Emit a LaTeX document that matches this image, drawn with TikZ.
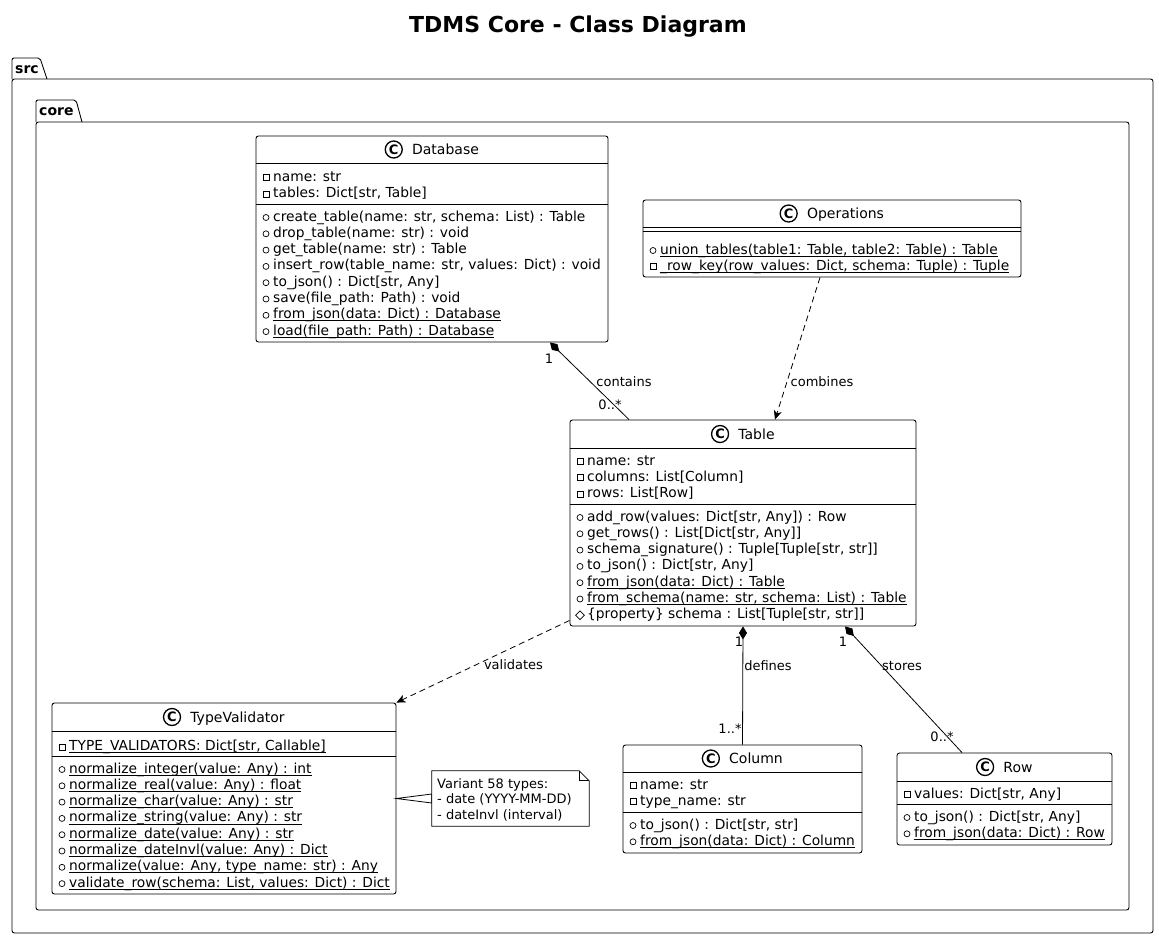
\documentclass[tikz,border=0pt]{standalone}
\usepackage{fontspec}
\setmainfont{DejaVu Sans}
\usetikzlibrary{arrows.meta,shapes.geometric,positioning}

\newcommand\uln[1]{\setbox0=\hbox{#1}\rlap{\rule[-2.4pt]{\wd0}{0.8pt}}\box0}
\newcommand\mbr[5]{%
  \node[#4] (#1i) at ({#2+10},{#3+1.5}) {};
  \node[mtext] (#1) at ({#2+17},#3) {#5};}
\newcommand\chead[4]{%
  \node[cname] (#1) at ({#2+13.5},#3) {#4};
  \node[cicon, left=9pt of #1] (#1c) {C};}
\newcommand\sepline[3]{\draw[boxline] (#1.west |- 0,#2) -- (#1.east |- 0,#2);}

\tikzset{
  boxline/.style={line width=0.9pt},
  cbox/.style={draw, rounded corners=2.5pt, line width=0.9pt, inner sep=0pt, fill=white},
  mtext/.style={anchor=west, inner sep=0pt, font=\fontsize{13.8}{16}\selectfont, text height=12pt, text depth=2pt},
  ntext/.style={anchor=west, inner sep=0pt, font=\fontsize{13}{15}\selectfont, text height=11pt, text depth=2pt},
  priv/.style={draw, rectangle, minimum size=6pt, inner sep=0pt, line width=0.7pt},
  pub/.style={draw, circle, minimum size=6pt, inner sep=0pt, line width=0.7pt},
  prot/.style={draw, diamond, minimum size=9pt, inner sep=0pt, line width=0.7pt},
  cname/.style={inner sep=0pt, font=\fontsize{14}{16}\selectfont, text height=12pt, text depth=2pt},
  cicon/.style={draw, circle, line width=1.3pt, minimum size=17pt, inner sep=0pt, font=\bfseries\fontsize{13}{13}\selectfont},
  lbl/.style={inner sep=0pt, font=\fontsize{13}{15}\selectfont},
  pkglbl/.style={anchor=west, inner sep=0pt, font=\bfseries\fontsize{14}{16}\selectfont},
  comp/.style={{Diamond[length=13pt,width=8pt]}-, line width=0.8pt},
  dep/.style={-{Stealth[length=9pt,width=8pt,inset=2.5pt]}, dash pattern=on 6pt off 4pt, line width=0.8pt},
}

\begin{document}
\begin{tikzpicture}[x=1pt,y=-1pt]
\useasboundingbox (0,0) rectangle (1159,940);
\fill[white] (0,0) rectangle (1159,940);

% title
\node[font=\bfseries\fontsize{22}{26}\selectfont, inner sep=0pt] (title) at (578,27) {TDMS Core - Class Diagram};

% packages
\draw[boxline, rounded corners=2pt] (12,79) -- (12,58) -- (40,58) -- (47,79);
\draw[boxline, rounded corners=2.5pt] (12,79) rectangle (1153,933);
\node[pkglbl] (srclbl) at (15,69.5) {src};
\draw[boxline, rounded corners=2pt] (36,122) -- (36,100) -- (76,100) -- (82,122);
\draw[boxline, rounded corners=2.5pt] (36,122) rectangle (1129,910);
\node[pkglbl] (corelbl) at (39,112) {core};

% ---------- Database
\node[cbox, minimum width=352pt, minimum height=206pt] (db) at (432,239) {};
\chead{dbh}{432}{149.5}{Database}
\sepline{db}{163}{}
\sepline{db}{204}{}
\mbr{dbA}{256}{176}{priv}{name: str}
\mbr{dbB}{256}{192.5}{priv}{tables: Dict[str, Table]}
\mbr{dbC}{256}{216}{pub}{create\_table(name: str, schema: List) : Table}
\mbr{dbD}{256}{232.3}{pub}{drop\_table(name: str) : void}
\mbr{dbE}{256}{248.6}{pub}{get\_table(name: str) : Table}
\mbr{dbF}{256}{264.9}{pub}{insert\_row(table\_name: str, values: Dict) : void}
\mbr{dbG}{256}{281.2}{pub}{to\_json() : Dict[str, Any]}
\mbr{dbH}{256}{297.5}{pub}{save(file\_path: Path) : void}
\mbr{dbI}{256}{313.8}{pub}{\uln{from\_json(data: Dict) : Database}}
\mbr{dbJ}{256}{330.1}{pub}{\uln{load(file\_path: Path) : Database}}

% ---------- Operations
\node[cbox, minimum width=378pt, minimum height=77pt] (ops) at (832,238.5) {};
\chead{opsh}{832}{213.5}{Operations}
\sepline{ops}{227}{}
\sepline{ops}{231}{}
\mbr{opA}{643}{249}{pub}{\uln{union\_tables(table1: Table, table2: Table) : Table}}
\mbr{opB}{643}{265}{priv}{\uln{\_row\_key(row\_values: Dict, schema: Tuple) : Tuple}}

% ---------- Table
\node[cbox, minimum width=346pt, minimum height=206pt] (tab) at (743,523) {};
\chead{tabh}{743}{434}{Table}
\sepline{tab}{448}{}
\sepline{tab}{504}{}
\mbr{tbA}{570}{460}{priv}{name: str}
\mbr{tbB}{570}{476.3}{priv}{columns: List[Column]}
\mbr{tbC}{570}{492.6}{priv}{rows: List[Row]}
\mbr{tbD}{570}{516}{pub}{add\_row(values: Dict[str, Any]) : Row}
\mbr{tbE}{570}{532.3}{pub}{get\_rows() : List[Dict[str, Any]]}
\mbr{tbF}{570}{548.6}{pub}{schema\_signature() : Tuple[Tuple[str, str]]}
\mbr{tbG}{570}{564.9}{pub}{to\_json() : Dict[str, Any]}
\mbr{tbH}{570}{581.2}{pub}{\uln{from\_json(data: Dict) : Table}}
\mbr{tbI}{570}{597.5}{pub}{\uln{from\_schema(name: str, schema: List) : Table}}
\mbr{tbJ}{570}{613.8}{prot}{\{property\} schema : List[Tuple[str, str]]}

% ---------- TypeValidator
\node[cbox, minimum width=344pt, minimum height=191pt] (tv) at (224,798.5) {};
\chead{tvh}{224}{717}{TypeValidator}
\sepline{tv}{731}{}
\sepline{tv}{756}{}
\mbr{tvA}{52}{745.5}{priv}{\uln{TYPE\_VALIDATORS: Dict[str, Callable]}}
\mbr{tvB}{52}{768}{pub}{\uln{normalize\_integer(value: Any) : int}}
\mbr{tvC}{52}{784.3}{pub}{\uln{normalize\_real(value: Any) : float}}
\mbr{tvD}{52}{800.6}{pub}{\uln{normalize\_char(value: Any) : str}}
\mbr{tvE}{52}{816.9}{pub}{\uln{normalize\_string(value: Any) : str}}
\mbr{tvF}{52}{833.2}{pub}{\uln{normalize\_date(value: Any) : str}}
\mbr{tvG}{52}{849.5}{pub}{\uln{normalize\_dateInvl(value: Any) : Dict}}
\mbr{tvH}{52}{865.8}{pub}{\uln{normalize(value: Any, type\_name: str) : Any}}
\mbr{tvI}{52}{882.1}{pub}{\uln{validate\_row(schema: List, values: Dict) : Dict}}

% ---------- Column
\node[cbox, minimum width=239pt, minimum height=108pt] (col) at (742.5,799) {};
\chead{colh}{742.5}{758.5}{Column}
\sepline{col}{772}{}
\sepline{col}{812}{}
\mbr{coA}{623}{784}{priv}{name: str}
\mbr{coB}{623}{800.3}{priv}{type\_name: str}
\mbr{coC}{623}{824}{pub}{to\_json() : Dict[str, str]}
\mbr{coD}{623}{840.3}{pub}{\uln{from\_json(data: Dict) : Column}}

% ---------- Row
\node[cbox, minimum width=215pt, minimum height=92pt] (row) at (1004.5,799) {};
\chead{rowh}{1004.5}{767}{Row}
\sepline{row}{781}{}
\sepline{row}{804}{}
\mbr{rwA}{897}{793}{priv}{values: Dict[str, Any]}
\mbr{rwB}{897}{816}{pub}{to\_json() : Dict[str, Any]}
\mbr{rwC}{897}{832.3}{pub}{\uln{from\_json(data: Dict) : Row}}

% ---------- Note
\node[minimum width=157pt, minimum height=55pt, inner sep=0pt] (note) at (510.5,798.5) {};
\draw[fill=white, line width=0.8pt] (tv.east) -- ([yshift=4.5pt]note.west) -- ([yshift=-4.5pt]note.west) -- cycle;
\draw[fill=white, line width=0.8pt] (note.north west) -- ([xshift=-10pt]note.north east) -- ([yshift=-10pt]note.north east) -- (note.south east) -- (note.south west) -- cycle;
\draw[line width=0.8pt] ([xshift=-10pt]note.north east) |- ([yshift=-10pt]note.north east);
\node[ntext] (nA) at (437,783.5) {Variant 58 types:};
\node[ntext] (nB) at (437,799) {- date (YYYY-MM-DD)};
\node[ntext] (nC) at (437,814.5) {- dateInvl (interval)};

% ---------- connectors
\draw[comp] ([xshift=118pt]db.south) -- ([xshift=-114pt]tab.north);
\draw[dep] ([xshift=-12pt]ops.south) -- ([xshift=32pt]tab.north);
\draw[dep] ([yshift=6pt]tab.south west) -- (tv.north east);
\draw[comp] (tab.south) -- (col.north);
\draw[comp] ([xshift=102pt]tab.south) -- ([xshift=-42.5pt]row.north);

% labels
\node[lbl] (l1) at (549,359) {1};
\node[lbl] (l2) at (624,382) {contains};
\node[lbl] (l3) at (610,405) {0..*};
\node[lbl] (l4) at (822,382) {combines};
\node[lbl] (l5) at (513.5,665) {validates};
\node[lbl] (l6) at (739,642) {1};
\node[lbl] (l7) at (768,666) {defines};
\node[lbl] (l8) at (730,729) {1..*};
\node[lbl] (l9) at (843,642) {1};
\node[lbl] (l10) at (902,666) {stores};
\node[lbl] (l11) at (942,737) {0..*};
\end{tikzpicture}
\end{document}
